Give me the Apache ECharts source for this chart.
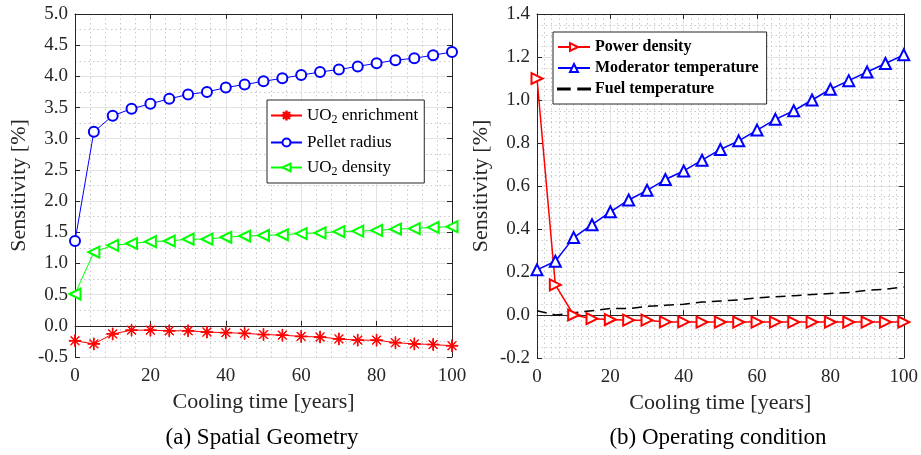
<!DOCTYPE html>
<html>
<head>
<meta charset="utf-8">
<script src="https://cdn.jsdelivr.net/npm/echarts@6/dist/echarts.min.js"></script>
<style>
  html, body { margin: 0; padding: 0; background: #fff; }
  #chart { width: 921px; height: 455px; }
</style>
</head>
<body>
<div id="chart"></div>
<script>
// cooling time, years
const years = [0, 5, 10, 15, 20, 25, 30, 35, 40, 45, 50, 55, 60, 65, 70, 75, 80, 85, 90, 95, 100]

// (a) spatial geometry, sensitivity %
const uo2Enrichment = [-0.24, -0.29, -0.13, -0.07, -0.07, -0.08, -0.08, -0.10, -0.11, -0.12, -0.14,
  -0.15, -0.17, -0.18, -0.21, -0.23, -0.23, -0.27, -0.29, -0.30, -0.32]
const pelletRadius = [1.36, 3.11, 3.37, 3.48, 3.56, 3.64, 3.71, 3.75, 3.82, 3.87, 3.92,
  3.97, 4.02, 4.07, 4.11, 4.16, 4.21, 4.26, 4.29, 4.34, 4.39]
const uo2Density = [0.51, 1.18, 1.29, 1.32, 1.35, 1.36, 1.39, 1.39, 1.42, 1.44, 1.45,
  1.46, 1.48, 1.49, 1.51, 1.52, 1.53, 1.55, 1.56, 1.58, 1.59]

// (b) operating condition, sensitivity %
const powerDensity = [1.10, 0.14, 0.00, -0.017, -0.021, -0.024, -0.024, -0.032, -0.032, -0.033, -0.033,
  -0.033, -0.033, -0.033, -0.033, -0.033, -0.033, -0.033, -0.033, -0.033, -0.033]
const moderatorTemp = [0.21, 0.25, 0.36, 0.42, 0.48, 0.535, 0.58, 0.63, 0.67, 0.72, 0.77,
  0.81, 0.86, 0.91, 0.95, 1.00, 1.05, 1.09, 1.13, 1.17, 1.21]
const fuelTemp = [0.02, 0.00, 0.01, 0.02, 0.03, 0.03, 0.04, 0.045, 0.05, 0.06, 0.065,
  0.07, 0.08, 0.085, 0.09, 0.095, 0.10, 0.105, 0.115, 0.12, 0.13]

const captions = ['(a) Spatial Geometry', '(b) Operating condition']

const FONT = 'Liberation Serif'
const AXIS_COLOR = '#262626'

// 星号标记（MATLAB 的 '*'）
const asterisk = 'path://M-0.6,-10L0.6,-10L0.6,10L-0.6,10Z' +
  'M-10,-0.6L10,-0.6L10,0.6L-10,0.6Z' +
  'M-6.6,-7.4L7.4,6.6L6.6,7.4L-7.4,-6.6Z' +
  'M6.6,-7.4L7.4,-6.6L-6.6,7.4L-7.4,6.6Z'

// 图例里的虚线
const dashIcon = 'path://M0,0L11,0L11,1.1L0,1.1Z M19,0L30,0L30,1.1L19,1.1Z'

const pairs = arr => arr.map((v, i) => [years[i], v])

function xMain(gridIndex, minorSplit) {
  return {
    type: 'value', gridIndex, min: 0, max: 100, interval: 20,
    name: 'Cooling time [years]', nameLocation: 'middle', nameGap: 33,
    nameTextStyle: { fontFamily: FONT, fontSize: 22, color: AXIS_COLOR },
    axisLine: { lineStyle: { color: AXIS_COLOR } },
    axisTick: { inside: true, length: 5, lineStyle: { color: AXIS_COLOR } },
    axisLabel: { fontFamily: FONT, fontSize: 19, color: AXIS_COLOR, margin: 10 },
    splitLine: { show: true, lineStyle: { color: '#e2e2e2' } },
    minorTick: { show: false, splitNumber: minorSplit },
    minorSplitLine: { show: true, lineStyle: { color: '#c8c8c8', type: [1.5, 3] } }
  }
}

function yMain(gridIndex, min, max, interval, minorSplit, gap) {
  return {
    type: 'value', gridIndex, min, max, interval,
    name: 'Sensitivity [%]', nameLocation: 'middle', nameGap: gap,
    nameTextStyle: { fontFamily: FONT, fontSize: 22, color: AXIS_COLOR },
    axisLine: { show: true, lineStyle: { color: AXIS_COLOR } },
    axisTick: { show: true, inside: true, length: 5, lineStyle: { color: AXIS_COLOR } },
    axisLabel: { fontFamily: FONT, fontSize: 19, color: AXIS_COLOR, margin: 7,
      formatter: v => v.toFixed(1) },
    splitLine: { show: true, lineStyle: { color: '#e2e2e2' } },
    minorTick: { show: false, splitNumber: minorSplit },
    minorSplitLine: { show: true, lineStyle: { color: '#c8c8c8', type: [1.5, 3] } }
  }
}

// 上边和右边的框线（只有刻度）
function frameAxis(kind, gridIndex, min, max, interval) {
  return {
    type: 'value', gridIndex, min, max, interval,
    position: kind === 'x' ? 'top' : 'right',
    axisLine: { show: true, onZero: false, lineStyle: { color: AXIS_COLOR } },
    axisTick: { show: true, inside: true, length: 5, lineStyle: { color: AXIS_COLOR } },
    axisLabel: { show: false },
    splitLine: { show: false }
  }
}

function lineSeries(name, data, xi, yi, color, symbol, extra) {
  return Object.assign({
    name, type: 'line', xAxisIndex: xi, yAxisIndex: yi, data: pairs(data),
    symbol, symbolSize: 10, showSymbol: true, animation: false,
    lineStyle: { color, width: 1 },
    itemStyle: { color, borderColor: color, borderWidth: 1 },
    z: 3
  }, extra || {})
}

const chart = echarts.init(document.getElementById('chart'))

chart.setOption({
  backgroundColor: '#fff',
  animation: false,
  grid: [
    { left: 75, top: 14, width: 377, height: 343 },
    { left: 537, top: 14, width: 367, height: 344 }
  ],
  xAxis: [
    xMain(0, 5),
    xMain(1, 10),
    frameAxis('x', 0, 0, 100, 20),
    frameAxis('x', 1, 0, 100, 20)
  ],
  yAxis: [
    yMain(0, -0.5, 5, 0.5, 2, 45),
    yMain(1, -0.2, 1.4, 0.2, 4, 45),
    frameAxis('y', 0, -0.5, 5, 0.5),
    frameAxis('y', 1, -0.2, 1.4, 0.2)
  ],
  legend: [
    {
      data: ['UO2 enrichment', 'Pellet radius', 'UO2 density'],
      orient: 'vertical', left: 267, top: 100,
      itemWidth: 31, itemHeight: 10, itemGap: 8,
      padding: [7, 6, 5, 3],
      backgroundColor: '#fff', borderColor: AXIS_COLOR, borderWidth: 1, borderRadius: 0,
      formatter: n => n.replace('UO2', 'UO{sub|2}'),
      textStyle: { fontFamily: FONT, fontSize: 17, color: '#000',
        rich: { sub: { fontFamily: FONT, fontSize: 12, color: '#000', padding: [9, 0, 0, 0] } } }
    },
    {
      data: ['Power density', 'Moderator temperature', { name: 'Fuel temperature', icon: dashIcon }],
      orient: 'vertical', left: 553, top: 32,
      itemWidth: 32, itemHeight: 10, itemGap: 5,
      padding: [7, 8, 7, 4],
      backgroundColor: '#fff', borderColor: AXIS_COLOR, borderWidth: 1, borderRadius: 0,
      textStyle: { fontFamily: FONT, fontSize: 16, fontWeight: 'bold', color: '#000' }
    }
  ],
  series: [
    lineSeries('UO2 enrichment', uo2Enrichment, 0, 0, '#ff0000', asterisk, { symbolSize: 12 }),
    lineSeries('Pellet radius', pelletRadius, 0, 0, '#0000ff', 'emptyCircle', { symbolSize: 10 }),
    lineSeries('UO2 density', uo2Density, 0, 0, '#00ff00', 'emptyTriangle',
      { symbolSize: 11, symbolRotate: 90 }),
    lineSeries('Power density', powerDensity, 1, 1, '#ff0000', 'emptyTriangle', {
      symbolSize: 11, symbolRotate: -90,
      lineStyle: { color: '#ff0000', width: 1.5 },
      itemStyle: { color: '#ff0000', borderColor: '#ff0000', borderWidth: 1.5 }
    }),
    lineSeries('Moderator temperature', moderatorTemp, 1, 1, '#0000ff', 'emptyTriangle', {
      symbolSize: 11,
      lineStyle: { color: '#0000ff', width: 1.5 },
      itemStyle: { color: '#0000ff', borderColor: '#0000ff', borderWidth: 1.5 }
    }),
    lineSeries('Fuel temperature', fuelTemp, 1, 1, '#000000', 'none', {
      showSymbol: false,
      lineStyle: { color: '#000000', width: 1.5, type: [10, 6] }
    })
  ],
  graphic: [
    { type: 'text', x: 262, y: 438,
      style: { text: captions[0], font: '23px "Liberation Serif"', fill: '#000',
        textAlign: 'center', textVerticalAlign: 'middle' } },
    { type: 'text', x: 718, y: 438,
      style: { text: captions[1], font: '23px "Liberation Serif"', fill: '#000',
        textAlign: 'center', textVerticalAlign: 'middle' } }
  ]
})

window.addEventListener('resize', () => {
  chart.resize()
})
</script>
</body>
</html>
